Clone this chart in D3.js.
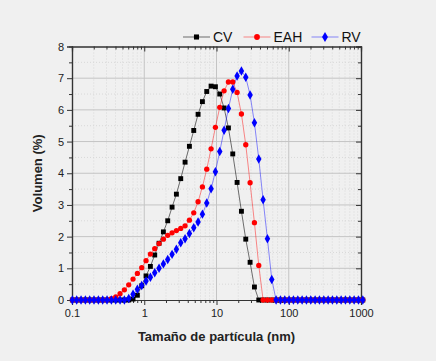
<!DOCTYPE html>
<html>
<head>
<meta charset="utf-8">
<script src="https://cdn.jsdelivr.net/npm/d3@7"></script>
<style>
  body { margin: 0; background: #f0f0f0; }
  text { font-family: "Liberation Sans", Arial, sans-serif; }
</style>
</head>
<body>
<div id="chart"></div>
<script>
// particle size (nm), log spaced bins
let sizes = [0.1012, 0.1161, 0.1334, 0.1531, 0.1758, 0.2018, 0.2317, 0.2661, 0.3055, 0.3508,
    0.4027, 0.4624, 0.5309, 0.6095, 0.6998, 0.8035, 0.9226, 1.059, 1.216, 1.396,
    1.603, 1.841, 2.113, 2.427, 2.786, 3.199, 3.673, 4.217, 4.842, 5.559,
    6.383, 7.328, 8.414, 9.661, 11.09, 12.74, 14.62, 16.79, 19.28, 22.13,
    25.41, 29.17, 33.50, 38.46, 44.16, 50.70, 58.21, 66.83, 76.74, 88.10,
    101.2, 116.1, 133.4, 153.1, 175.8, 201.8, 231.7, 266.1, 305.5, 350.8,
    402.7, 462.4, 530.9, 609.5, 699.8, 803.5, 922.6, 1059]

let cv = [0, 0, 0, 0, 0, 0, 0, 0, 0, 0,
    0, 0, 0, 0, 0.03, 0.15, 0.45, 0.76, 1.06, 1.42,
    1.79, 2.15, 2.50, 2.93, 3.34, 3.83, 4.35, 4.85, 5.35, 5.86,
    6.26, 6.58, 6.75, 6.73, 6.50, 6.06, 5.43, 4.61, 3.71, 2.80,
    1.92, 1.19, 0.41, 0, 0, 0, 0, 0, 0, 0,
    0, 0, 0, 0, 0, 0, 0, 0, 0, 0,
    0, 0, 0, 0, 0, 0, 0, 0]

let eah = [0, 0, 0, 0, 0, 0, 0, 0, 0, 0.04,
    0.10, 0.20, 0.32, 0.48, 0.66, 0.84, 1.02, 1.24, 1.45, 1.62,
    1.78, 1.92, 2.04, 2.12, 2.19, 2.26, 2.34, 2.52, 2.75, 3.10,
    3.57, 4.13, 4.77, 5.45, 6.08, 6.60, 6.88, 6.88, 6.55, 5.87,
    4.90, 3.70, 2.44, 1.09, 0, 0, 0, 0, 0, 0,
    0, 0, 0, 0, 0, 0, 0, 0, 0, 0,
    0, 0, 0, 0, 0, 0, 0, 0]

let rv = [0, 0, 0, 0, 0, 0, 0, 0, 0, 0,
    0, 0, 0, 0.05, 0.18, 0.34, 0.46, 0.60, 0.72, 0.86,
    1.00, 1.14, 1.28, 1.44, 1.60, 1.81, 1.93, 2.10, 2.28, 2.46,
    2.71, 3.06, 3.51, 4.05, 4.69, 5.36, 6.04, 6.65, 7.07, 7.23,
    7.03, 6.47, 5.59, 4.45, 3.16, 1.93, 0.65, 0, 0, 0,
    0, 0, 0, 0, 0, 0, 0, 0, 0, 0,
    0, 0, 0, 0, 0, 0, 0, 0]

let seriesNames = ["CV", "EAH", "RV"]
let xTicks = [0.1, 1, 10, 100, 1000]
let yTicks = [0, 1, 2, 3, 4, 5, 6, 7, 8]

let series = [
    { name: "CV", values: cv, color: "#000000", shape: d3.symbolSquare },
    { name: "EAH", values: eah, color: "#ff0000", shape: d3.symbolCircle },
    { name: "RV", values: rv, color: "#0000ff", shape: d3.symbolDiamond }
]

function chartconfiguration(){
    let width = 436;
    let height = 361;
    let margin = { top: 46.5, bottom: 61, left: 72, right: 75 }
    let bodyWidth = width - margin.left - margin.right;
    let bodyHeight = height - margin.top - margin.bottom;
    let svg = d3.select("#chart")
                .append("svg")
                .attr("width", width)
                .attr("height", height)
                .style("background", "#f0f0f0")
    let container = svg.append("g")
                .attr("transform", "translate(" + [margin.left, margin.top] + ")")
    return { width, height, margin, bodyWidth, bodyHeight, svg, container };
}

function chartscales(config){
    let { bodyWidth, bodyHeight } = config;
    let xScale = d3.scaleLog().domain([0.1, 1000]).range([0, bodyWidth])
    let yScale = d3.scaleLinear().domain([0, 8]).range([bodyHeight, 0])
    return { xScale, yScale }
}

function drawChart(scales, config){
    let { container, bodyWidth, bodyHeight } = config;
    let { xScale, yScale } = scales;

    // minor grid (dotted)
    let xMinor = [];
    [0.1, 1, 10, 100].forEach(dec => {
        for (let m = 2; m <= 9; m++) xMinor.push(dec * m)
    })
    let yMinor = d3.range(0.5, 8, 1)

    container.selectAll(".xminorgrid")
        .data(xMinor).enter().append("line")
        .attr("x1", d => xScale(d)).attr("x2", d => xScale(d))
        .attr("y1", 0).attr("y2", bodyHeight)
        .style("stroke", "#d8d8d8").style("stroke-dasharray", "1,2")
    container.selectAll(".yminorgrid")
        .data(yMinor).enter().append("line")
        .attr("y1", d => yScale(d)).attr("y2", d => yScale(d))
        .attr("x1", 0).attr("x2", bodyWidth)
        .style("stroke", "#d8d8d8").style("stroke-dasharray", "1,2")

    // major grid
    container.selectAll(".xgrid")
        .data(xTicks.slice(1, -1)).enter().append("line")
        .attr("x1", d => xScale(d)).attr("x2", d => xScale(d))
        .attr("y1", 0).attr("y2", bodyHeight)
        .style("stroke", "#c4c4c4")
    container.selectAll(".ygrid")
        .data(yTicks.slice(1, -1)).enter().append("line")
        .attr("y1", d => yScale(d)).attr("y2", d => yScale(d))
        .attr("x1", 0).attr("x2", bodyWidth)
        .style("stroke", "#c4c4c4")

    // axes
    let fmt = d => String(d)
    let axisX = d3.axisBottom(xScale).tickValues(xTicks).tickFormat(fmt).tickSize(5).tickPadding(4)
    let gx = container.append("g").attr("transform", "translate(0," + bodyHeight + ")").call(axisX)
    let axisXminor = d3.axisBottom(xScale).tickValues(xMinor).tickFormat("").tickSize(3)
    container.append("g").attr("transform", "translate(0," + bodyHeight + ")").call(axisXminor)

    let axisTop = d3.axisBottom(xScale).tickValues(xTicks).tickFormat("").tickSize(5)
    container.append("g").call(axisTop)
    let axisTopMinor = d3.axisBottom(xScale).tickValues(xMinor).tickFormat("").tickSize(3)
    container.append("g").call(axisTopMinor)

    let axisY = d3.axisLeft(yScale).tickValues(yTicks).tickFormat(fmt).tickSize(5).tickPadding(3)
    let gy = container.append("g").call(axisY)
    let axisYminor = d3.axisLeft(yScale).tickValues(yMinor).tickFormat("").tickSize(3)
    container.append("g").call(axisYminor)

    let axisRight = d3.axisLeft(yScale).tickValues(yTicks).tickFormat("").tickSize(5)
    container.append("g").attr("transform", "translate(" + bodyWidth + ",0)").call(axisRight)
    let axisRightMinor = d3.axisLeft(yScale).tickValues(yMinor).tickFormat("").tickSize(3)
    container.append("g").attr("transform", "translate(" + bodyWidth + ",0)").call(axisRightMinor)

    // right tick marks point inward: flip them
    container.selectAll("g").filter(function(){
        let t = d3.select(this).attr("transform") || ""
        return t.indexOf("translate(" + bodyWidth + ",0)") === 0
    }).selectAll(".tick line").attr("x2", function(){ return -d3.select(this).attr("x2") * -1 })

    container.selectAll(".domain").style("stroke", "#333").style("stroke-width", 1.2)
    container.selectAll(".tick line").style("stroke", "#333")
    container.selectAll(".tick text")
        .style("font-size", "11px")
        .style("fill", "#222")
        .style("font-family", "'Liberation Sans', Arial, sans-serif")

    // series
    let line = d3.line()
        .x((d, i) => xScale(sizes[i]))
        .y(d => yScale(d))

    series.forEach(s => {
        container.append("path")
            .datum(s.values)
            .attr("d", line)
            .style("fill", "none")
            .style("stroke", s.color)
            .style("stroke-opacity", s.name == "CV" ? 0.55 : 0.45)
            .style("stroke-width", 1)
    })
    series.forEach(s => {
        let sym = d3.symbol().type(s.shape).size(s.name == "RV" ? 26 : s.name == "EAH" ? 22 : 24)
        container.selectAll(".pt-" + s.name)
            .data(s.values).enter().append("path")
            .attr("d", sym)
            .attr("transform", (d, i) => "translate(" + [xScale(sizes[i]), yScale(d)] + ")")
            .style("fill", s.color)
    })

    // titles
    container.append("text")
        .attr("x", bodyWidth / 2)
        .attr("y", bodyHeight + 41)
        .style("text-anchor", "middle")
        .style("font-weight", "bold")
        .style("font-size", "13px")
        .style("fill", "#222")
        .text("Tamaño de partícula (nm)")

    container.append("text")
        .attr("transform", "translate(-30," + (bodyHeight / 2) + ") rotate(-90)")
        .style("text-anchor", "middle")
        .style("font-weight", "bold")
        .style("font-size", "13px")
        .style("fill", "#222")
        .text("Volumen (%)")
}

function legend(scales, config){
    let { svg } = config;
    let xs = [183, 243.5, 311.5]
    let ly = 37
    let g = svg.append("g")
    series.forEach((s, i) => {
        g.append("line")
            .attr("x1", xs[i]).attr("x2", xs[i] + 27)
            .attr("y1", ly).attr("y2", ly)
            .style("stroke", s.color)
            .style("stroke-opacity", s.name == "CV" ? 0.55 : 0.45)
        g.append("path")
            .attr("d", d3.symbol().type(s.shape).size(s.name == "RV" ? 30 : 26)())
            .attr("transform", "translate(" + [xs[i] + 13.5, ly] + ")")
            .style("fill", s.color)
        g.append("text")
            .attr("x", xs[i] + 30)
            .attr("y", ly + 5)
            .style("font-size", "14px")
            .style("fill", "#111")
            .text(seriesNames[i])
    })
}

let config = chartconfiguration();
let scales = chartscales(config);
drawChart(scales, config);
legend(scales, config);
</script>
</body>
</html>
